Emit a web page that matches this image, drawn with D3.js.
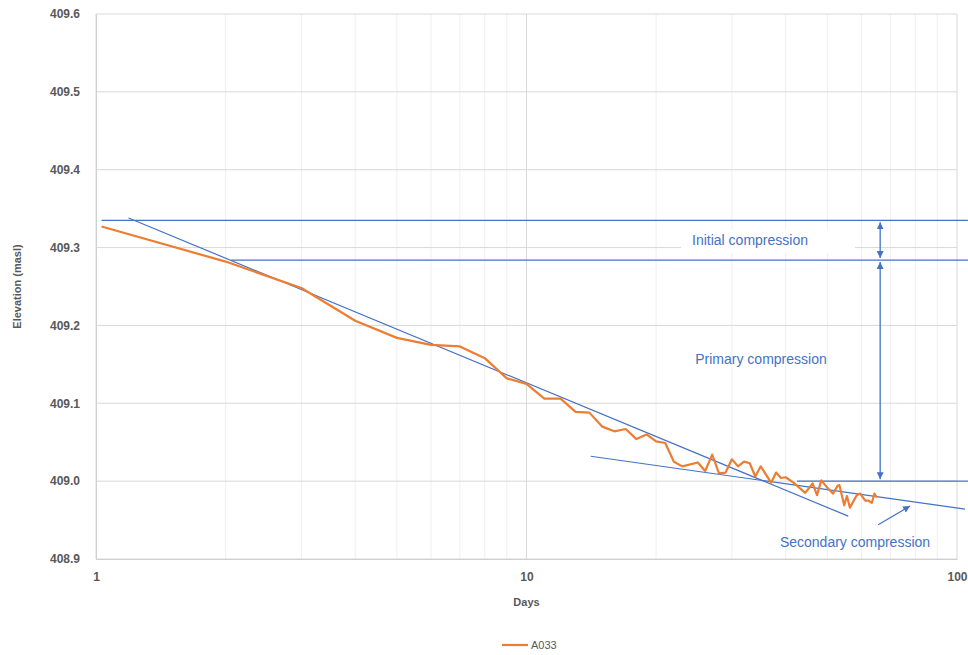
<!DOCTYPE html>
<html>
<head>
<meta charset="utf-8">
<script src="https://cdn.jsdelivr.net/npm/d3@7"></script>
<style>
  html, body { margin: 0; padding: 0; background: #fff; }
  svg { display: block; font-family: "Liberation Sans", Arial, sans-serif; }
</style>
</head>
<body>
<div id="chart"></div>
<script>
// Settlement readings, series A033
const days = [1.03, 2, 3, 4, 5, 6, 7, 8, 9, 10, 11, 12, 13, 14, 15, 16, 17, 18, 19, 20,
  21, 22, 23, 25, 26, 27, 28, 29, 30, 31, 32, 33, 34, 35, 37, 38, 39, 40, 41.7, 44.4,
  46.2, 47.3, 48.4, 49.9, 51.5, 52.8, 53.3, 54.7, 55.5, 56.4, 58.5, 59.6, 61.2, 62.3, 63.4, 64.3, 65.1];
const elevation = [409.327, 409.282, 409.248, 409.206, 409.184, 409.175, 409.173, 409.158, 409.132, 409.125,
  409.106, 409.106, 409.089, 409.088, 409.070, 409.064, 409.067, 409.054, 409.060, 409.051,
  409.049, 409.025, 409.019, 409.024, 409.013, 409.034, 409.010, 409.011, 409.028, 409.019,
  409.025, 409.023, 409.006, 409.019, 408.998, 409.011, 409.004, 409.005, 408.998, 408.985,
  408.997, 408.982, 409.001, 408.992, 408.984, 408.994, 408.995, 408.969, 408.981, 408.966,
  408.982, 408.984, 408.975, 408.975, 408.972, 408.984, 408.979];

const yTicks = [408.9, 409.0, 409.1, 409.2, 409.3, 409.4, 409.5, 409.6];
const xTicks = [1, 10, 100];

// construction lines (days, elevation)
const levelLines = [
  { from: 1.03, to: 106, level: 409.335 },
  { from: 2.06, to: 107, level: 409.284 },
  { from: 42.5, to: 107, level: 409.0 }
];
const trendLines = [
  [[1.19, 409.338], [55.9, 408.955]],
  [[14.1, 409.032], [104.4, 408.964]]
];
const arrowDay = 66.3;
const secondaryArrow = [[65.6, 408.944], [77.8, 408.968]];

const W = 968, H = 655;
const margin = { top: 14, right: 11, bottom: 96, left: 96 };

const svg = d3.select("#chart").append("svg")
    .attr("width", W).attr("height", H);

const x = d3.scaleLog().domain([1, 100]).range([margin.left, W - margin.right]);
const y = d3.scaleLinear().domain([408.9, 409.6]).range([H - margin.bottom, margin.top]);

const blue = "#4472C4", orange = "#ED7D31", grey = "#595959";

const defs = svg.append("defs");
defs.append("marker").attr("id", "arrow")
    .attr("viewBox", "0 0 10 10").attr("refX", 10).attr("refY", 5)
    .attr("markerWidth", 7).attr("markerHeight", 7).attr("orient", "auto-start-reverse")
    .attr("markerUnits", "userSpaceOnUse")
    .append("path").attr("d", "M0,0 L10,5 L0,10 z").attr("fill", blue);

// Grid
const minor = [2, 3, 4, 5, 6, 7, 8, 9, 20, 30, 40, 50, 60, 70, 80, 90];
svg.append("g").selectAll("line").data(minor).join("line")
    .attr("x1", d => x(d)).attr("x2", d => x(d))
    .attr("y1", y(409.6)).attr("y2", y(408.9))
    .attr("stroke", "#efefef").attr("stroke-width", 1);

svg.append("g").selectAll("line").data(yTicks).join("line")
    .attr("x1", x(1)).attr("x2", x(100))
    .attr("y1", d => y(d)).attr("y2", d => y(d))
    .attr("stroke", "#d9d9d9").attr("stroke-width", 1);

svg.append("g").selectAll("line").data(xTicks).join("line")
    .attr("x1", d => x(d)).attr("x2", d => x(d))
    .attr("y1", y(409.6)).attr("y2", y(408.9))
    .attr("stroke", "#d9d9d9").attr("stroke-width", 1);

// Axes
const yAxis = svg.append("g")
    .attr("transform", `translate(${x(1)},0)`)
    .call(d3.axisLeft(y).tickValues(yTicks).tickFormat(d3.format(".1f")).tickSize(0).tickPadding(16));
const xAxis = svg.append("g")
    .attr("transform", `translate(0,${y(408.9)})`)
    .call(d3.axisBottom(x).tickValues(xTicks).tickFormat(d3.format("d")).tickSize(0).tickPadding(13));

[xAxis, yAxis].forEach(axis => {
    axis.select(".domain").attr("stroke", "#d0d0d0");
    axis.selectAll("text")
        .style("font-family", "'Liberation Sans', Arial, sans-serif")
        .style("font-size", "12px").style("font-weight", "700")
        .style("fill", grey);
});

svg.append("text").attr("x", (x(1) + x(100)) / 2).attr("y", 606)
    .attr("text-anchor", "middle").style("font-size", "11px").style("font-weight", "700")
    .style("fill", grey).text("Days");

svg.append("text")
    .attr("transform", `translate(21,${(y(409.6) + y(408.9)) / 2}) rotate(-90)`)
    .attr("text-anchor", "middle").style("font-size", "11px").style("font-weight", "700")
    .style("fill", grey).text("Elevation (masl)");

// Annotations
const ann = svg.append("g");

const initLabel = ann.append("text")
    .attr("x", 750).attr("y", 245)
    .attr("text-anchor", "middle").style("font-size", "14px").style("fill", blue)
    .text("Initial compression");
const bb = initLabel.node().getBBox();
ann.insert("rect", "text")
    .attr("x", bb.x - 11).attr("y", y(409.323))
    .attr("width", bb.width + 58).attr("height", y(409.293) - y(409.323))
    .attr("fill", "#fff");

ann.selectAll("line.level").data(levelLines).join("line")
    .attr("class", "level")
    .attr("x1", d => x(d.from)).attr("x2", d => x(d.to))
    .attr("y1", d => y(d.level)).attr("y2", d => y(d.level))
    .attr("stroke", blue).attr("stroke-width", 1.3);

ann.selectAll("line.trend").data(trendLines).join("line")
    .attr("class", "trend")
    .attr("x1", d => x(d[0][0])).attr("y1", d => y(d[0][1]))
    .attr("x2", d => x(d[1][0])).attr("y2", d => y(d[1][1]))
    .attr("stroke", blue).attr("stroke-width", 1.2);

const spans = [[409.335, 409.284], [409.284, 409.0]];
ann.selectAll("line.span").data(spans).join("line")
    .attr("class", "span")
    .attr("x1", x(arrowDay)).attr("x2", x(arrowDay))
    .attr("y1", d => y(d[0]) + 2).attr("y2", d => y(d[1]) - 2)
    .attr("stroke", blue).attr("stroke-width", 1.3)
    .attr("marker-start", "url(#arrow)").attr("marker-end", "url(#arrow)");

ann.append("line")
    .attr("x1", x(secondaryArrow[0][0])).attr("y1", y(secondaryArrow[0][1]))
    .attr("x2", x(secondaryArrow[1][0])).attr("y2", y(secondaryArrow[1][1]))
    .attr("stroke", blue).attr("stroke-width", 1.2)
    .attr("marker-end", "url(#arrow)");

ann.append("text").attr("x", 761).attr("y", 364)
    .attr("text-anchor", "middle").style("font-size", "14px").style("fill", blue)
    .text("Primary compression");
ann.append("text").attr("x", 855).attr("y", 547)
    .attr("text-anchor", "middle").style("font-size", "14px").style("fill", blue)
    .text("Secondary compression");

// Series
const series = days.map((d, i) => ({ day: d, elev: elevation[i] }));
svg.append("path")
    .datum(series)
    .attr("fill", "none").attr("stroke", orange).attr("stroke-width", 2.2)
    .attr("stroke-linejoin", "round")
    .attr("d", d3.line().x(d => x(d.day)).y(d => y(d.elev)));

// Legend
const lg = svg.append("g").attr("transform", "translate(502,645)");
lg.append("line").attr("x1", 0).attr("x2", 26).attr("stroke", orange).attr("stroke-width", 2.2);
lg.append("text").attr("x", 29).attr("y", 4).style("font-size", "11px").style("fill", grey).text("A033");
</script>
</body>
</html>
